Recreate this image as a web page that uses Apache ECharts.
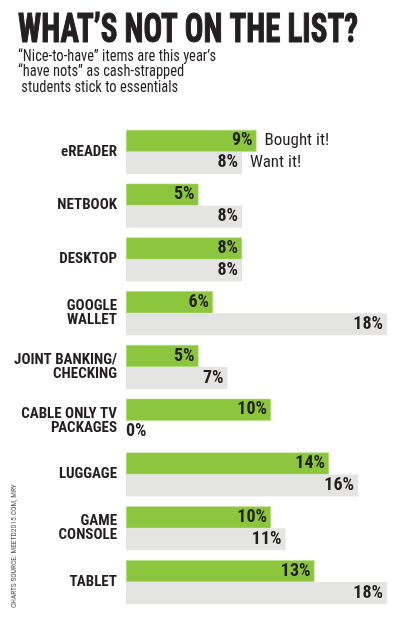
<!DOCTYPE html>
<html><head><meta charset="utf-8">
<script src="https://cdn.jsdelivr.net/npm/echarts@6/dist/echarts.min.js"></script>
<style>html,body{margin:0;padding:0;background:#fff}#c{width:400px;height:620px}</style>
</head><body><div id="c"></div>
<script>
const titleText = 'WHAT\u2019S NOT ON THE LIST?';
const subtitleLines = ['\u201CNice-to-have\u201D items are this year\u2019s', '\u201Chave nots\u201D as cash-strapped', ' students stick to essentials'];
const sourceText = 'CHARTS SOURCE: MEETD2015.COM, MRY';
const categories = ['eREADER', 'NETBOOK', 'DESKTOP', 'GOOGLE\nWALLET', 'JOINT BANKING/\nCHECKING', 'CABLE ONLY TV\nPACKAGES', 'LUGGAGE', 'GAME\nCONSOLE', 'TABLET'];
const boughtIt = [9, 5, 8, 6, 5, 10, 14, 10, 13];
const wantIt = [8, 8, 8, 18, 7, 0, 16, 11, 18];
const seriesNames = ['Bought it!', 'Want it!'];

const FONT = '"Roboto Condensed", "Open Sans Condensed", sans-serif';
const INK = '#231f20';

function measure(text, font) {
  const ctx = document.createElement('canvas').getContext('2d');
  ctx.font = font;
  return ctx.measureText(text).width;
}
const titleScale = 340 / measure(titleText, 'bold 41px ' + FONT);
const subScale = 198 / measure(subtitleLines[0], '16px ' + FONT);

const chart = echarts.init(document.getElementById('c'), null, {renderer: 'canvas'});

const valueLabel = {
  show: true, position: 'insideRight', distance: 4,
  formatter: '{c}%', color: INK, fontFamily: FONT, fontWeight: 'bold', fontSize: 18
};
function mkData(arr) {
  return arr.map(v => v === 0 ? {value: 0, label: {position: 'right', distance: 0}} : v);
}
function helperData(idx) {
  return categories.map((c, i) => i === idx ? 0 : '-');
}

chart.setOption({
  animation: false,
  backgroundColor: '#fff',
  grid: {left: 126, top: 125, width: 261, height: 484, outerBoundsMode: 'none', containLabel: false},
  xAxis: {type: 'value', min: 0, max: 18, show: false},
  yAxis: {
    type: 'category', data: categories, inverse: true,
    axisLine: {show: false}, axisTick: {show: false},
    axisLabel: {margin: 9, color: INK, fontFamily: FONT, fontWeight: 'bold', fontSize: 15, lineHeight: 14, align: 'right'}
  },
  series: [
    {name: seriesNames[0], type: 'bar', stack: 'b', data: mkData(boughtIt), barWidth: 22, barGap: '0%',
     itemStyle: {color: '#8cc63f', borderColor: '#b5dc7e', borderWidth: 0.6}, label: valueLabel},
    {name: seriesNames[1], type: 'bar', stack: 'w', data: mkData(wantIt), barWidth: 22, barGap: '0%',
     itemStyle: {color: '#e4e5e3'}, label: valueLabel},
    {name: 'h1', type: 'bar', stack: 'b', data: helperData(0), barWidth: 22, barGap: '0%',
     itemStyle: {color: 'transparent'}, silent: true,
     label: {show: true, position: 'right', distance: 8, formatter: seriesNames[0], color: INK, fontFamily: FONT, fontSize: 17}},
    {name: 'h2', type: 'bar', stack: 'w', data: helperData(0), barWidth: 22, barGap: '0%',
     itemStyle: {color: 'transparent'}, silent: true,
     label: {show: true, position: 'right', distance: 8, formatter: seriesNames[1], color: INK, fontFamily: FONT, fontSize: 17}}
  ],
  graphic: [
    {type: 'text', x: 18, y: 11, scaleX: titleScale,
     style: {text: titleText, font: 'bold 41px ' + FONT, fill: INK, stroke: INK, lineWidth: 1.2}},
    {type: 'text', x: 18, y: 49, scaleX: subScale,
     style: {text: subtitleLines.join('\n'), font: '16px ' + FONT, lineHeight: 15.5, fill: INK}},
    {type: 'text', x: 10, y: 608, rotation: Math.PI / 2,
     style: {text: sourceText, font: '7.5px ' + FONT, fill: '#555'}}
  ]
});
</script></body></html>
